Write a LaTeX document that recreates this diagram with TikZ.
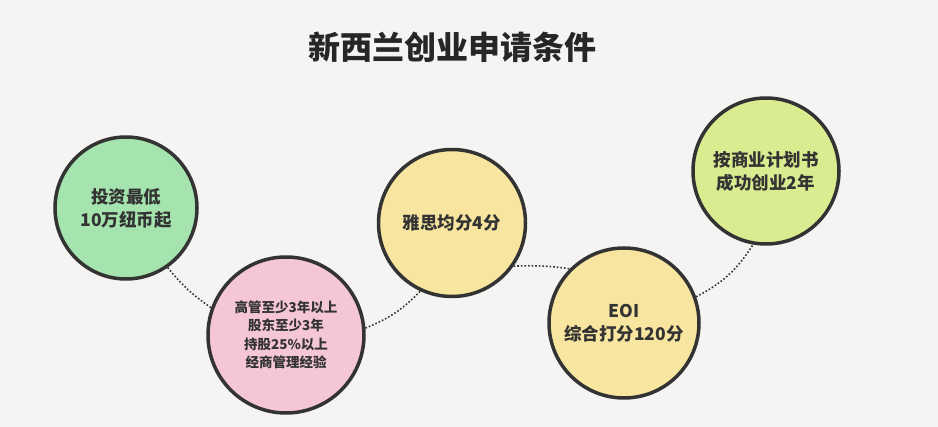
\documentclass[tikz,border=0pt]{standalone}
\usepackage{fontspec}
\newfontfamily\cjk{Noto Sans CJK SC}
\begin{document}
\begin{tikzpicture}[x=1pt,y=-1pt,
  circ/.style={circle,draw=black!80,line width=3.5pt,minimum size=#1,inner sep=0pt,align=center,font=\cjk\bfseries\fontsize{17.5}{23}\selectfont,text=black!80},
  conn/.style={dotted,line width=1.6pt,black!80}]
\definecolor{bg}{HTML}{F5F4F2}
\definecolor{cg}{HTML}{A5E4AE}
\definecolor{cp}{HTML}{F5C6D3}
\definecolor{cy}{HTML}{F8E5A0}
\definecolor{cl}{HTML}{D9EC8F}
\fill[bg] (0,0) rectangle (938,427);
\useasboundingbox (0,0) rectangle (938,427);
\node[font=\cjk\bfseries\fontsize{32}{38}\selectfont,text=black!85] (t) at (452,47) {新西兰创业申请条件};
\node[circ=142pt,fill=cg] (a) at (126,208) {投资最低\\10万纽币起};
\node[circ=156pt,fill=cp,font=\cjk\bfseries\fontsize{13.5}{18.5}\selectfont] (b) at (286,335) {高管至少3年以上\\股东至少3年\\持股25\%以上\\经商管理经验};
\node[circ=147pt,fill=cy] (c) at (452,223) {雅思均分4分};
\node[circ=150pt,fill=cy] (d) at (624,323) {EOI\\综合打分120分};
\node[circ=146pt,fill=cl] (e) at (766,171) {按商业计划书\\成功创业2年};
\draw[conn] (a.-55) to[bend right=8] (b.160);
\draw[conn] (b.5) to[bend right=12] (c.-115);
\draw[conn] (c.-35) to[bend left=5] (d.135);
\draw[conn] (d.20) to[bend right=15] (e.-100);
\end{tikzpicture}
\end{document}
